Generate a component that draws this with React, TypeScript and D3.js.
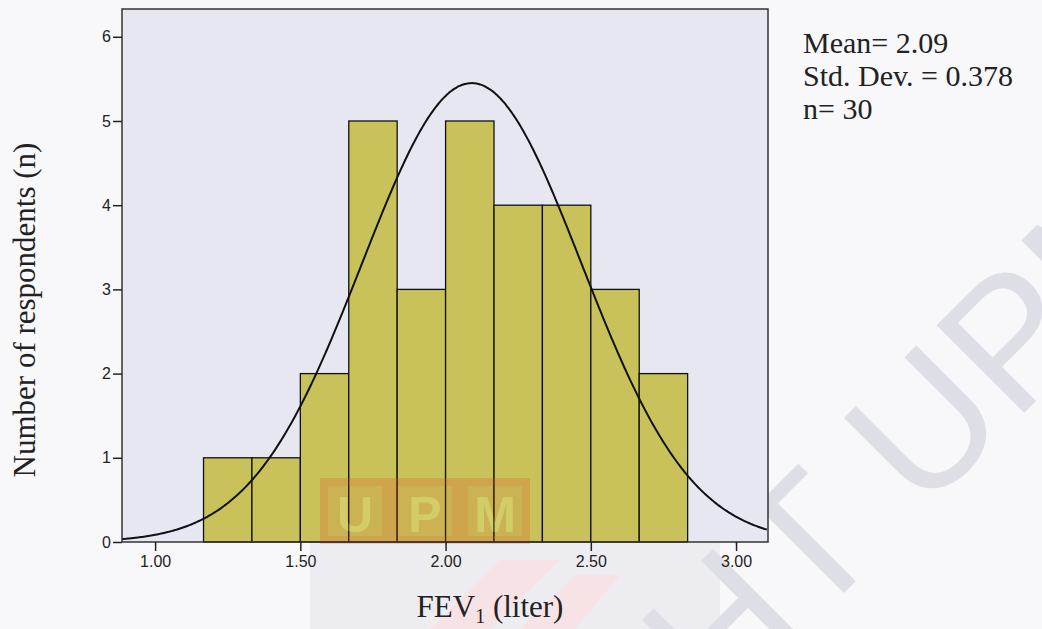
import React, { useEffect, useRef } from 'react'
import * as d3 from 'd3'

// histogram bins (lower edges, liters) and counts
const binEdges = [1.1667, 1.3333, 1.5, 1.6667, 1.8333, 2.0, 2.1667, 2.3333, 2.5, 2.6667, 2.8333]
const counts = [1, 1, 2, 5, 3, 5, 4, 4, 3, 2]
const xTicks = [1.0, 1.5, 2.0, 2.5, 3.0]
const yTicks = [0, 1, 2, 3, 4, 5, 6]
const statLines = ['Mean= 2.09', 'Std. Dev. = 0.378', 'n= 30']
const mean = 2.09
const sd = 0.378
const curvePeak = 5.45

const W = 1042
const H = 629
const plot = { left: 122, right: 768, top: 9, bottom: 542 }

const App = () => {
  const ref = useRef(null)

  useEffect(() => {
    const svg = d3.select(ref.current)
    svg.selectAll('*').remove()

    const x = d3.scaleLinear().domain([0.886, 3.11]).range([plot.left, plot.right])
    const y = d3.scaleLinear().domain([0, 6.33]).range([plot.bottom, plot.top])

    svg.append('rect').attr('width', W).attr('height', H).attr('fill', '#f8f8fa')

    // faint scan background under the x axis (logo area)
    svg
      .append('rect')
      .attr('x', 310)
      .attr('y', 457)
      .attr('width', 410)
      .attr('height', 172)
      .attr('fill', '#ededf1')
    svg
      .append('path')
      .attr('d', 'M430,629 L500,560 L560,560 L490,629 Z M520,629 L575,575 L620,575 L575,629 Z')
      .attr('fill', '#f7e2e6')

    // faint repository watermark, runs off the page like in the scan
    svg
      .append('text')
      .attr('transform', 'translate(132,1305) rotate(-45)')
      .attr('font-family', 'Liberation Sans, Arial, sans-serif')
      .attr('font-size', 180)
      .attr('fill', '#dedee6')
      .text('COPYRIGHT UPM')

    svg
      .append('rect')
      .attr('x', plot.left)
      .attr('y', plot.top)
      .attr('width', plot.right - plot.left)
      .attr('height', plot.bottom - plot.top)
      .attr('fill', '#e7e7f2')

    svg
      .append('g')
      .selectAll('rect')
      .data(counts)
      .enter()
      .append('rect')
      .attr('x', (d, i) => x(binEdges[i]))
      .attr('y', d => y(d))
      .attr('width', (d, i) => x(binEdges[i + 1]) - x(binEdges[i]))
      .attr('height', d => y(0) - y(d))
      .attr('fill', '#c9c25a')
      .attr('stroke', '#111')
      .attr('stroke-width', 1.3)

    // UPM logo letters, faint
    const logo = svg.append('g').attr('opacity', 0.25)
    ;['U', 'P', 'M'].forEach((c, i) => {
      logo
        .append('rect')
        .attr('x', 324 + i * 70)
        .attr('y', 482)
        .attr('width', 62)
        .attr('height', 58)
        .attr('fill', '#e0502a')
        .attr('fill-opacity', 0.5)
        .attr('stroke', '#e0502a')
        .attr('stroke-width', 8)
      logo
        .append('text')
        .attr('x', 355 + i * 70)
        .attr('y', 532)
        .attr('text-anchor', 'middle')
        .attr('font-family', 'Liberation Sans, Arial, sans-serif')
        .attr('font-weight', 'bold')
        .attr('font-size', 50)
        .attr('fill', '#f4ee90')
        .text(c)
    })

    const pts = d3.range(0.886, 3.1101, 0.005)
    const line = d3
      .line()
      .x(d => x(d))
      .y(d => y(curvePeak * Math.exp(-((d - mean) ** 2) / (2 * sd * sd))))
      .curve(d3.curveBasis)
    svg
      .append('path')
      .attr('d', line(pts))
      .attr('fill', 'none')
      .attr('stroke', '#111')
      .attr('stroke-width', 2)

    svg
      .append('rect')
      .attr('x', plot.left)
      .attr('y', plot.top)
      .attr('width', plot.right - plot.left)
      .attr('height', plot.bottom - plot.top)
      .attr('fill', 'none')
      .attr('stroke', '#333')
      .attr('stroke-width', 1.5)

    const xAxis = svg
      .append('g')
      .attr('transform', `translate(0, ${plot.bottom})`)
      .call(d3.axisBottom(x).tickValues(xTicks).tickSize(9).tickPadding(5).tickFormat(d3.format('.2f')))
    const yAxis = svg
      .append('g')
      .attr('transform', `translate(${plot.left}, 0)`)
      .call(d3.axisLeft(y).tickValues(yTicks).tickSize(9).tickPadding(2).tickFormat(d3.format('d')))
    ;[xAxis, yAxis].forEach(a => {
      a.select('.domain').remove()
      a.selectAll('line').attr('stroke', '#222').attr('stroke-width', 1.5)
      a.selectAll('text')
        .attr('font-family', 'Liberation Sans, Arial, sans-serif')
        .attr('font-size', 16)
        .attr('fill', '#222')
    })

    svg
      .append('text')
      .attr('x', 490)
      .attr('y', 617)
      .attr('text-anchor', 'middle')
      .attr('font-family', 'Liberation Serif, Times New Roman, serif')
      .attr('font-size', 31)
      .attr('fill', '#222')
      .call(t => {
        t.append('tspan').text('FEV')
        t.append('tspan').attr('font-size', 20).attr('dy', 6).text('1')
        t.append('tspan').attr('dy', -6).text(' (liter)')
      })

    svg
      .append('text')
      .attr('transform', 'translate(35, 310) rotate(-90)')
      .attr('text-anchor', 'middle')
      .attr('font-family', 'Liberation Serif, Times New Roman, serif')
      .attr('font-size', 31)
      .attr('fill', '#222')
      .text('Number of respondents (n)')

    svg
      .append('g')
      .selectAll('text')
      .data(statLines)
      .enter()
      .append('text')
      .attr('x', 803)
      .attr('y', (d, i) => 53 + i * 33)
      .attr('font-family', 'Liberation Serif, Times New Roman, serif')
      .attr('font-size', 30)
      .attr('fill', '#222')
      .text(d => d)
  }, [])

  return (
    <svg
      ref={ref}
      width={W}
      height={H}
      style={{ position: 'absolute', left: 0, top: 0, display: 'block' }}
    ></svg>
  )
}

export default App
